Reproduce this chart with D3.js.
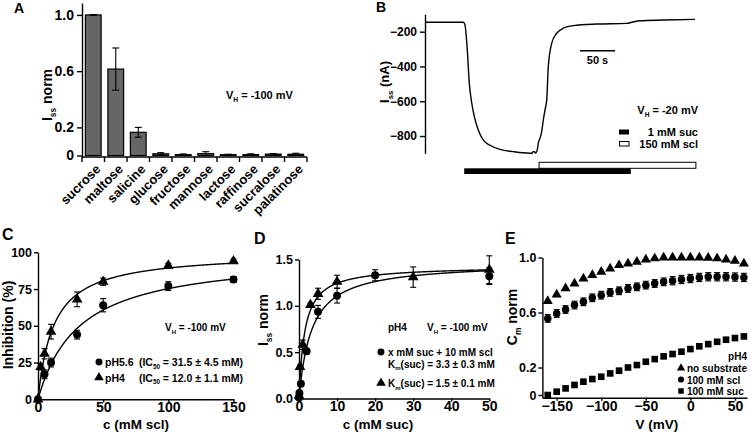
<!DOCTYPE html>
<html><head><meta charset="utf-8">
<script src="https://cdn.jsdelivr.net/npm/d3@7"></script>
<style>
body{margin:0;background:#fff;}
svg text{font-family:"Liberation Sans",Arial,sans-serif;font-weight:bold;fill:#000;}
</style></head><body>
<svg id="fig" width="751" height="433"></svg>
<script>
// ---------- DATA ----------
// Panel A
const sugars = ["sucrose","maltose","salicine","glucose","fructose","mannose","lactose","raffinose","sucralose","palatinose"];
const sugarMean = [1.0,0.615,0.165,0.012,0.006,0.013,0.006,0.006,0.01,0.009];
const sugarErr  = [0.002,0.15,0.035,0.008,0.005,0.014,0.003,0.006,0.004,0.007];
const yTicksA = [0,0.2,0.6,1.0];
// Panel B
const traceT = [0,54.7,57.1,60.4,63.3,66.4,70,76.1,83.3,92.9,107.1,126.1,150,152.9,154.3,156.4,157.9,160.4,161.9,164.3,166.7,169,171.4,173.9,176.1,181,188.1,197.6,211.9,245.3,288.1,295.3,307.1,340.4,385.7];
const traceI = [-146,-146,-161,-305,-497,-600,-680,-766,-824,-853,-877,-890,-899,-899,-890,-890,-898,-880,-840,-812,-775,-708,-650,-593,-401,-267,-209,-180,-165,-156,-152,-146,-137,-133,-129];
const sucPeriod = [56,294];
const sclPeriod = [163,387];
const yTicksB = [-200,-400,-600,-800];
// Panel C
const cC56 = [0,5,10,30,50,100,150];
const vC56 = [0,17,25,44,64,77,81.5];
const eC56 = [0,3,3,3,4.5,3,2];
const cC4 = [0,2,5,10,30,50,100,150];
const vC4 = [0,22,31,46,68,80,91,94];
const eC4 = [0,2,3.5,5,5,2.5,1.5,1.5];
const fitC56 = {max:99, k:31.5};
const fitC4 = {max:100, k:12.0};
const xTicksC = [0,50,100,150];
const yTicksC = [0,25,50,75,100];
// Panel D
const cDscl = [0,0.1,0.5,2,5,10,20,50];
const vDscl = [0.01,0.06,0.16,0.51,0.935,1.11,1.33,1.32];
const eDscl = [0,0,0.01,0.03,0.07,0.08,0.06,0.09];
const cDsuc = [0,0.25,1,3,5,10,30,50];
const vDsuc = [0.03,0.34,0.58,1.01,1.13,1.26,1.31,1.39];
const eDsuc = [0,0.02,0.05,0.02,0.06,0.07,0.11,0.15];
const fitDscl = {max:1.47, k:3.3};
const fitDsuc = {max:1.43, k:1.5};
const xTicksD = [0,10,20,30,40,50];
const yTicksD = [0,0.5,1.0,1.5];
// Panel E
const vE = [-160,-150,-140,-130,-120,-110,-100,-90,-80,-70,-60,-50,-40,-30,-20,-10,0,10,20,30,40,50,60];
const cmNone = [0.683,0.731,0.775,0.811,0.847,0.872,0.896,0.92,0.944,0.956,0.968,0.985,0.993,1.0,1.0,1.0,1.0,1.0,0.998,0.993,0.985,0.976,0.956];
const cmScl  = [0.557,0.593,0.622,0.654,0.678,0.707,0.726,0.746,0.758,0.775,0.787,0.799,0.811,0.823,0.831,0.840,0.847,0.855,0.860,0.860,0.860,0.858,0.855];
const cmSclErr = [0.028,0.028,0.028,0.028,0.028,0.028,0.028,0.028,0.028,0.028,0.028,0.028,0.028,0.028,0.03,0.03,0.03,0.03,0.03,0.03,0.03,0.03,0.03];
const cmSuc  = [0.0,0.024,0.048,0.073,0.097,0.116,0.133,0.157,0.177,0.2,0.218,0.242,0.261,0.281,0.298,0.315,0.334,0.354,0.370,0.387,0.402,0.414,0.426];
const xTicksE = [-150,-100,-50,0,50];
const yTicksE = [0,0.2,0.6,1.0];

// ---------- HELPERS ----------
const svg = d3.select("#fig");
svg.append("rect").attr("width",751).attr("height",433).attr("fill","#fff");
const AX = 1.4;

function styleAxis(g, size){
  g.selectAll("path.domain").attr("stroke","#000").attr("stroke-width",AX);
  g.selectAll(".tick line").attr("stroke","#000").attr("stroke-width",AX);
  g.selectAll(".tick text").attr("font-size",size).attr("font-family",null).attr("fill","#000");
}
function rich(parent, x, y, parts, size, anchor, rot){
  const t = parent.append("text").attr("font-size",size).attr("text-anchor",anchor||"start")
    .attr("transform", `translate(${x},${y})` + (rot?` rotate(${rot})`:""));
  let prevSub=false;
  parts.forEach(p=>{
    const s = typeof p==="string"? p : p[0];
    const sub = typeof p!=="string";
    const ts = t.append("tspan").text(s);
    if(sub){ ts.attr("font-size",size*0.6).attr("dy",prevSub?0:size*0.28); }
    else { ts.attr("dy",prevSub?-size*0.28:0); }
    prevSub=sub;
  });
  return t;
}
function label(parent,x,y,s,size,anchor){
  return parent.append("text").attr("x",x).attr("y",y).attr("font-size",size).attr("text-anchor",anchor||"start").text(s);
}
function errBars(g, xs, ys, es, x, y, cap){
  xs.forEach((c,i)=>{
    if(!es[i]) return;
    const px=x(c), y1=y(ys[i]+es[i]), y2=y(ys[i]-es[i]);
    g.append("line").attr("x1",px).attr("x2",px).attr("y1",y1).attr("y2",y2).attr("stroke","#000").attr("stroke-width",1.1);
    [y1,y2].forEach(yy=>g.append("line").attr("x1",px-cap).attr("x2",px+cap).attr("y1",yy).attr("y2",yy).attr("stroke","#000").attr("stroke-width",1.1));
  });
}
function markers(g, xs, ys, x, y, type, size){
  const sym = d3.symbol().type(type).size(size);
  xs.forEach((c,i)=>{
    g.append("path").attr("d",sym()).attr("transform",`translate(${x(c)},${y(ys[i])})`).attr("fill","#000");
  });
}
function fitLine(g, fit, x, y, c0, c1){
  const pts = d3.range(0,401).map(i=>{const c=c0+(c1-c0)*i/400; return [x(c), y(fit.max*c/(fit.k+c))];});
  g.append("path").attr("d",d3.line()(pts)).attr("fill","none").attr("stroke","#000").attr("stroke-width",1.4);
}
const XT = 14; // bottom-row x tick label size
const TY = 429; // bottom-row x title baseline

// ---------- PANEL A ----------
const gA = svg.append("g");
const xA = d3.scaleBand().domain(sugars).range([82,307]).paddingInner(0.3).paddingOuter(0.15);
const yA = d3.scaleLinear().domain([-0.0107,1.085]).range([157,3]);
sugars.forEach((s,i)=>{
  gA.append("rect").attr("x",xA(s)).attr("width",xA.bandwidth())
    .attr("y",yA(sugarMean[i])).attr("height",yA(0)-yA(sugarMean[i]))
    .attr("fill","#666").attr("stroke","#000").attr("stroke-width",1.2);
});
errBars(gA, sugars, sugarMean, sugarErr, s=>xA(s)+xA.bandwidth()/2, yA, 3.5);
const axYA = gA.append("g").attr("transform","translate(82,0)")
  .call(d3.axisLeft(yA).tickValues(yTicksA).tickSize(5).tickSizeOuter(0).tickPadding(3).tickFormat(d=>d===0?"0":d3.format(".1f")(d)));
styleAxis(axYA,14);
gA.append("line").attr("x1",82).attr("x2",307).attr("y1",157).attr("y2",157).attr("stroke","#000").attr("stroke-width",AX);
d3.range(sugars.length+1).forEach(i=>{
  const x = xA.range()[0] + i*xA.step();
  gA.append("line").attr("x1",x).attr("x2",x).attr("y1",157).attr("y2",162).attr("stroke","#000").attr("stroke-width",AX);
});
sugars.forEach(s=>{
  gA.append("text").attr("transform",`translate(${xA(s)+xA.bandwidth()/2+8},${170}) rotate(-45)`)
    .attr("text-anchor","end").attr("font-size",13).text(s);
});
rich(gA, 52, 95, ["I",["ss"]," norm"], 14, "middle", -90);
rich(gA, 226, 99, ["V",["H"]," = -100 mV"], 11, "start");
label(gA, 14, 13, "A", 14);

// ---------- PANEL B ----------
const gB = svg.append("g");
const xB = d3.scaleLinear().domain([0,387]).range([425,695.9]);
const yB = d3.scaleLinear().domain([-900,-100]).range([153.4,14.3]);
const axYB = gB.append("g").attr("transform","translate(425,0)")
  .call(d3.axisLeft(yB).tickValues(yTicksB).tickSize(5).tickSizeOuter(0).tickPadding(3));
styleAxis(axYB,12);
gB.append("path").attr("d", d3.line().x(d=>xB(d[0])).y(d=>yB(d[1])).curve(d3.curveMonotoneX)(traceT.map((t,i)=>[t,traceI[i]])))
  .attr("fill","none").attr("stroke","#000").attr("stroke-width",1.4);
gB.append("rect").attr("x",xB(sclPeriod[0])).attr("width",xB(sclPeriod[1])-xB(sclPeriod[0])).attr("y",162.3).attr("height",6)
  .attr("fill","#fff").attr("stroke","#000").attr("stroke-width",1);
gB.append("rect").attr("x",xB(sucPeriod[0])).attr("width",xB(sucPeriod[1])-xB(sucPeriod[0])).attr("y",168.3).attr("height",5.7)
  .attr("fill","#000");
gB.append("line").attr("x1",xB(221.5)).attr("x2",xB(271.5)).attr("y1",50.7).attr("y2",50.7).attr("stroke","#000").attr("stroke-width",1.4);
label(gB, xB(246.5), 64, "50 s", 11, "middle");
rich(gB, 389, 82, ["I",["ss"]," (nA)"], 13, "middle", -90);
rich(gB, 698, 114, ["V",["H"]," = -20 mV"], 11, "end");
gB.append("rect").attr("x",619).attr("y",129.5).attr("width",10).attr("height",5).attr("fill","#000");
gB.append("rect").attr("x",619.5).attr("y",141.5).attr("width",9.5).attr("height",4.5).attr("fill","#fff").attr("stroke","#000").attr("stroke-width",1);
label(gB, 698, 136, "1 mM suc", 11, "end");
label(gB, 698, 148, "150 mM scl", 11, "end");
label(gB, 376, 12, "B", 14);

// ---------- PANEL C ----------
const gC = svg.append("g");
const xC = d3.scaleLinear().domain([0,150]).range([38,233.5]);
const yC = d3.scaleLinear().domain([0,100]).range([399.3,252.3]);
const axXC = gC.append("g").attr("transform","translate(0,399.3)")
  .call(d3.axisBottom(xC).tickValues(xTicksC).tickSize(3).tickSizeOuter(0).tickPadding(0));
styleAxis(axXC,XT);
const axYC = gC.append("g").attr("transform","translate(38,0)")
  .call(d3.axisLeft(yC).tickValues(yTicksC).tickSize(4).tickSizeOuter(0).tickPadding(2));
styleAxis(axYC,12.5);
fitLine(gC, fitC4, xC, yC, 0, 150);
fitLine(gC, fitC56, xC, yC, 0, 150);
errBars(gC, cC56, vC56, eC56, xC, yC, 3);
errBars(gC, cC4, vC4, eC4, xC, yC, 3);
markers(gC, cC56, vC56, xC, yC, d3.symbolCircle, 50);
markers(gC, cC4, vC4, xC, yC, d3.symbolTriangle, 50);
label(gC, 136, TY, "c (mM scl)", 13.5, "middle");
label(gC, 0, 0, "Inhibition (%)", 14, "middle").attr("transform","translate(13,325) rotate(-90)");
rich(gC, 165, 331, ["V",["H"]," = -100 mV"], 10, "start");
gC.append("path").attr("d",d3.symbol().type(d3.symbolCircle).size(38)()).attr("transform","translate(99,362)");
gC.append("path").attr("d",d3.symbol().type(d3.symbolTriangle).size(40)()).attr("transform","translate(99,377.5)");
label(gC, 105, 366, "pH5.6", 10.5);
rich(gC, 243, 366, ["(IC",["50"]," = 31.5 ± 4.5 mM)"], 10.5, "end");
label(gC, 105, 381.5, "pH4", 10.5);
rich(gC, 243, 381.5, ["(IC",["50"]," = 12.0 ± 1.1 mM)"], 10.5, "end");
label(gC, 2, 240, "C", 16);

// ---------- PANEL D ----------
const gD = svg.append("g");
const xD = d3.scaleLinear().domain([0,50]).range([299,489.3]);
const yD = d3.scaleLinear().domain([0,1.5]).range([398.5,259.5]);
const axXD = gD.append("g").attr("transform","translate(0,398.5)")
  .call(d3.axisBottom(xD).tickValues(xTicksD).tickSize(3).tickSizeOuter(0).tickPadding(0));
styleAxis(axXD,XT);
const axYD = gD.append("g").attr("transform","translate(299,0)")
  .call(d3.axisLeft(yD).tickValues(yTicksD).tickSize(4).tickSizeOuter(0).tickPadding(2).tickFormat(d3.format(".1f")));
styleAxis(axYD,12.5);
fitLine(gD, fitDsuc, xD, yD, 0, 50);
fitLine(gD, fitDscl, xD, yD, 0, 50);
errBars(gD, cDscl, vDscl, eDscl, xD, yD, 3);
errBars(gD, cDsuc, vDsuc, eDsuc, xD, yD, 3);
markers(gD, cDscl, vDscl, xD, yD, d3.symbolCircle, 50);
markers(gD, cDsuc, vDsuc, xD, yD, d3.symbolTriangle, 50);
label(gD, 378, TY, "c (mM suc)", 13.5, "middle");
rich(gD, 268, 320, ["I",["ss"]," norm"], 14, "middle", -90);
label(gD, 388, 331, "pH4", 10);
rich(gD, 427, 331, ["V",["H"]," = -100 mV"], 10, "start");
gD.append("path").attr("d",d3.symbol().type(d3.symbolCircle).size(38)()).attr("transform","translate(381,352)");
gD.append("path").attr("d",d3.symbol().type(d3.symbolTriangle).size(40)()).attr("transform","translate(381,383)");
label(gD, 388, 356, "x mM suc + 10 mM scl", 10);
rich(gD, 388, 367.5, ["K",["m"],"(suc) = 3.3 ± 0.3 mM"], 10, "start");
rich(gD, 388, 387, ["K",["m"],"(suc) = 1.5 ± 0.1 mM"], 10, "start");
label(gD, 254, 244, "D", 16);

// ---------- PANEL E ----------
const gE = svg.append("g");
const xE = d3.scaleLinear().domain([-166,63.5]).range([542.4,747]);
const yE = d3.scaleLinear().domain([-0.0196,1.0]).range([397.7,257.5]);
const axXE = gE.append("g").attr("transform","translate(0,397.7)")
  .call(d3.axisBottom(xE).tickValues(xTicksE).tickSize(3).tickSizeOuter(0).tickPadding(0));
styleAxis(axXE,XT);
const axYE = gE.append("g").attr("transform","translate(542.4,0)")
  .call(d3.axisLeft(yE).tickValues(yTicksE).tickSize(4).tickSizeOuter(0).tickPadding(2).tickFormat(d=>d===0?"0":d3.format(".1f")(d)));
styleAxis(axYE,12.5);
errBars(gE, vE, cmScl, cmSclErr, xE, yE, 3);
markers(gE, vE, cmNone, xE, yE, d3.symbolTriangle, 44);
markers(gE, vE, cmScl, xE, yE, d3.symbolCircle, 44);
markers(gE, vE, cmSuc, xE, yE, d3.symbolSquare, 44);
label(gE, 657, TY, "V (mV)", 13.5, "middle");
rich(gE, 517, 317, ["C",["m"]," norm"], 14, "middle", -90);
label(gE, 747, 360, "pH4", 10, "end");
gE.append("path").attr("d",d3.symbol().type(d3.symbolTriangle).size(30)()).attr("transform","translate(681,368)");
gE.append("path").attr("d",d3.symbol().type(d3.symbolCircle).size(30)()).attr("transform","translate(681,379.5)");
gE.append("path").attr("d",d3.symbol().type(d3.symbolSquare).size(30)()).attr("transform","translate(681,391)");
label(gE, 687, 372, "no substrate", 10);
label(gE, 687, 383.5, "100 mM scl", 10);
label(gE, 687, 395, "100 mM suc", 10);
label(gE, 505, 244, "E", 16);
</script>
</body></html>
